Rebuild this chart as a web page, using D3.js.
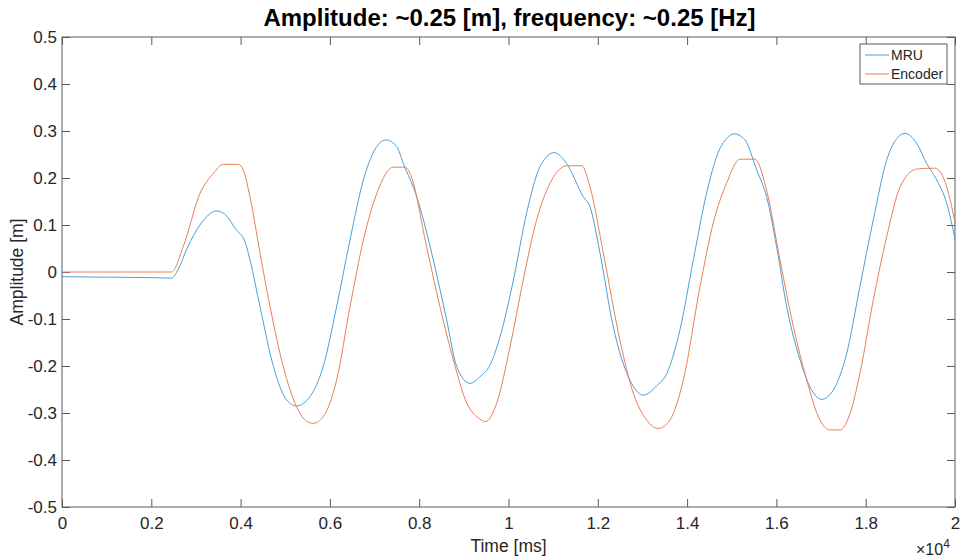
<html>
<head>
<meta charset="utf-8">
<script src="https://d3js.org/d3.v7.min.js"></script>
<style>
  body { margin: 0; background: #fff; }
  text { font-family: "Liberation Sans", Arial, sans-serif; }
</style>
</head>
<body>
<svg id="chart" width="961" height="560"></svg>
<script>
// data (time in ms, amplitude in m)
var mruTime = [0, 1000, 2000, 2450, 2600, 2800, 3090, 3465, 3700, 3875, 4100, 4210, 4435, 4735, 5030, 5255,
  5555, 5850, 6150, 6450, 6750, 7050, 7255, 7495, 7645, 7945, 8315, 8615, 8840, 9140, 9360, 9585,
  9810, 10110, 10405, 10705, 11020, 11300, 11675, 11825, 12050, 12345, 12720, 13020, 13320, 13545,
  13840, 14140, 14430, 14700, 14885, 15050, 15295, 15560, 15780, 16005, 16230, 16530, 16750, 17015,
  17275, 17575, 17870, 18170, 18470, 18695, 18880, 19140, 19365, 19590, 19815, 20000];
var mruAmp = [-0.010, -0.011, -0.012, -0.013, 0.005, 0.050, 0.100, 0.130, 0.118, 0.093, 0.064, 0.026, -0.074, -0.201, -0.272, -0.285,
  -0.265, -0.201, -0.074, 0.068, 0.196, 0.267, 0.281, 0.267, 0.231, 0.160, 0.026, -0.102, -0.201, -0.237, -0.223, -0.198,
  -0.138, -0.017, 0.125, 0.224, 0.254, 0.231, 0.160, 0.139, 0.040, -0.116, -0.230, -0.262, -0.242, -0.216,
  -0.123, 0.026, 0.165, 0.255, 0.284, 0.294, 0.281, 0.217, 0.160, 0.054, -0.074, -0.187, -0.244, -0.271,
  -0.251, -0.173, -0.031, 0.111, 0.238, 0.284, 0.295, 0.274, 0.231, 0.196, 0.146, 0.070];

var encTime = [0, 1000, 2000, 2455, 2715, 3090, 3390, 3615, 3950, 4060, 4210, 4435, 4660, 4955, 5255, 5480,
  5630, 5850, 6150, 6450, 6750, 7050, 7420, 7680, 7795, 8165, 8465, 8765, 9065, 9290, 9495, 9735,
  10035, 10330, 10630, 10930, 11225, 11300, 11640, 11825, 12125, 12495, 12795, 13095, 13355, 13615,
  13915, 14290, 14585, 14885, 15185, 15520, 15780, 16080, 16380, 16680, 16975, 17200, 17425, 17650,
  17870, 18170, 18470, 18770, 19140, 19550, 19815, 20000];
var encAmp = [0.000, 0.000, 0.000, 0.000, 0.054, 0.167, 0.210, 0.229, 0.229, 0.217, 0.160, 0.040, -0.074, -0.201, -0.287, -0.318,
  -0.322, -0.308, -0.230, -0.074, 0.068, 0.167, 0.223, 0.223, 0.210, 0.054, -0.074, -0.187, -0.279, -0.308, -0.318, -0.279,
  -0.159, -0.017, 0.111, 0.189, 0.224, 0.226, 0.226, 0.181, 0.040, -0.145, -0.258, -0.315, -0.333, -0.315,
  -0.230, -0.031, 0.104, 0.189, 0.240, 0.240, 0.174, 0.026, -0.116, -0.230, -0.315, -0.336, -0.336, -0.301,
  -0.216, -0.060, 0.075, 0.181, 0.219, 0.221, 0.181, 0.105];

var xTicks = [0, 2000, 4000, 6000, 8000, 10000, 12000, 14000, 16000, 18000, 20000];
var xTickLabels = ["0", "0.2", "0.4", "0.6", "0.8", "1", "1.2", "1.4", "1.6", "1.8", "2"];
var yTicks = [-0.5, -0.4, -0.3, -0.2, -0.1, 0, 0.1, 0.2, 0.3, 0.4, 0.5];
var yTickLabels = ["-0.5", "-0.4", "-0.3", "-0.2", "-0.1", "0", "0.1", "0.2", "0.3", "0.4", "0.5"];
var seriesNames = ["MRU", "Encoder"];
var seriesColors = ["#4a9fd8", "#ec7f55"];

var plotLeft = 62, plotRight = 955, plotTop = 37, plotBottom = 507;
var axisColor = "#5a5a5a", textColor = "#262626";

var svg = d3.select("#chart");

var x = d3.scaleLinear().domain([0, 20000]).range([plotLeft, plotRight]);
var y = d3.scaleLinear().domain([-0.5, 0.5]).range([plotBottom, plotTop]);

// box
svg.append("rect")
  .attr("x", plotLeft).attr("y", plotTop)
  .attr("width", plotRight - plotLeft).attr("height", plotBottom - plotTop)
  .attr("fill", "none").attr("stroke", axisColor).attr("stroke-width", 1);

// axes with inward ticks
function styleAxis(g) {
  g.select(".domain").remove();
  g.selectAll(".tick line").attr("stroke", axisColor);
  g.selectAll(".tick text").attr("fill", textColor).attr("font-size", 17)
    .attr("font-family", "Liberation Sans, Arial, sans-serif");
}

svg.append("g")
  .attr("transform", "translate(0," + plotBottom + ")")
  .call(d3.axisBottom(x).tickValues(xTicks).tickSizeInner(-8).tickPadding(10)
    .tickFormat(function(d, i) { return xTickLabels[i]; }))
  .call(styleAxis);
svg.append("g")
  .attr("transform", "translate(0," + plotTop + ")")
  .call(d3.axisTop(x).tickValues(xTicks).tickSizeInner(-8).tickFormat(""))
  .call(styleAxis);
svg.append("g")
  .attr("transform", "translate(" + plotLeft + ",0)")
  .call(d3.axisLeft(y).tickValues(yTicks).tickSizeInner(-8).tickPadding(5)
    .tickFormat(function(d, i) { return yTickLabels[i]; }))
  .call(styleAxis);
svg.append("g")
  .attr("transform", "translate(" + plotRight + ",0)")
  .call(d3.axisRight(y).tickValues(yTicks).tickSizeInner(-8).tickFormat(""))
  .call(styleAxis);

// exponent label
var expo = svg.append("text")
  .attr("x", 916).attr("y", 555)
  .attr("fill", textColor).attr("font-size", 16);
expo.append("tspan").text("\u00d710");
expo.append("tspan").attr("dy", -7).attr("font-size", 12).text("4");

// labels
svg.append("text")
  .attr("x", (plotLeft + plotRight) / 2).attr("y", 552)
  .attr("text-anchor", "middle").attr("fill", textColor).attr("font-size", 17.5)
  .text("Time [ms]");
svg.append("text")
  .attr("transform", "translate(23," + ((plotTop + plotBottom) / 2) + ") rotate(-90)")
  .attr("text-anchor", "middle").attr("fill", textColor).attr("font-size", 17.5)
  .text("Amplitude [m]");
svg.append("text")
  .attr("x", (plotLeft + plotRight) / 2 + 1).attr("y", 26)
  .attr("text-anchor", "middle").attr("fill", "#000").attr("font-size", 24)
  .attr("font-weight", "bold")
  .text("Amplitude: ~0.25 [m], frequency: ~0.25 [Hz]");

// lines
var line = d3.line()
  .x(function(d) { return x(d[0]); })
  .y(function(d) { return y(d[1]); })
  .curve(d3.curveMonotoneX);

var mru = d3.zip(mruTime, mruAmp);
var enc = d3.zip(encTime, encAmp);

svg.append("path")
  .datum(mru)
  .attr("fill", "none").attr("stroke", seriesColors[0]).attr("stroke-width", 1)
  .attr("d", line);
svg.append("path")
  .datum(enc)
  .attr("fill", "none").attr("stroke", seriesColors[1]).attr("stroke-width", 1)
  .attr("d", line);

// legend
var lg = svg.append("g").attr("transform", "translate(860,44)");
lg.append("rect")
  .attr("width", 87).attr("height", 40)
  .attr("fill", "#fff").attr("stroke", axisColor).attr("stroke-width", 1);
seriesNames.forEach(function(name, i) {
  var yy = 11 + i * 19;
  lg.append("line")
    .attr("x1", 5).attr("x2", 29).attr("y1", yy).attr("y2", yy)
    .attr("stroke", seriesColors[i]).attr("stroke-width", 1);
  lg.append("text")
    .attr("x", 31).attr("y", yy + 5)
    .attr("fill", textColor).attr("font-size", 14)
    .text(name);
});
</script>
</body>
</html>
